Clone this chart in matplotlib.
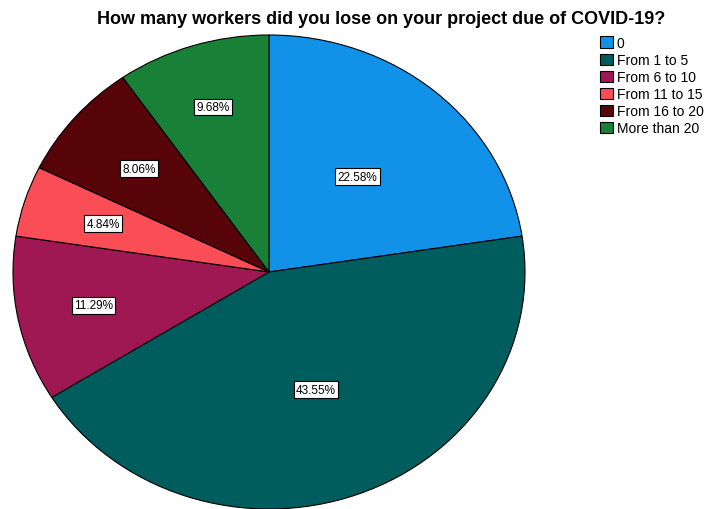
import numpy as np
import matplotlib
matplotlib.use("Agg")
import matplotlib.pyplot as plt

plt.rcParams['font.family'] = ['Liberation Sans', 'DejaVu Sans']

# answers and counts (n = 62)
categories = ["0", "From 1 to 5", "From 6 to 10", "From 11 to 15", "From 16 to 20", "More than 20"]
counts = [14, 27, 7, 3, 5, 6]
colors = ["#1192e8", "#005d5d", "#9f1853", "#fa4d56", "#570408", "#198038"]

# how far out each percent label sits (fraction of radius)
label_r = [0.53, 0.53, 0.70, 0.68, 0.67, 0.73]

fig = plt.figure(figsize=(7.1, 5.1), dpi=100)
ax = fig.add_axes([13 / 710, 0 / 510, 512 / 710, 474 / 510])

wedges, _ = ax.pie(counts, colors=colors, startangle=90, counterclock=False,
                   wedgeprops=dict(edgecolor="black", linewidth=0.8))
ax.set_aspect("auto")
ax.set_xlim(-1, 1)
ax.set_ylim(-1, 1)
ax.axis("off")

total = sum(counts)
for w, c, r in zip(wedges, counts, label_r):
    mid = np.deg2rad((w.theta1 + w.theta2) / 2)
    ax.text(r * np.cos(mid), r * np.sin(mid), f"{100 * c / total:.2f}%",
            ha="center", va="center", fontsize=8.5,
            bbox=dict(boxstyle="square,pad=0.2", fc="white", ec="black", lw=0.8))

fig.text(381 / 710, 1 - 20 / 510, "How many workers did you lose on your project due of COVID-19?",
         ha="center", va="center", fontsize=13, fontweight="bold")

fig.legend(wedges, categories, loc="upper left", bbox_to_anchor=(600 / 710, 1 - 37 / 510),
           frameon=False, fontsize=10, handlelength=0.9, handleheight=0.9,
           handletextpad=0.3, labelspacing=0.22, borderaxespad=0, borderpad=0)

fig.savefig("out.png", dpi=100)
